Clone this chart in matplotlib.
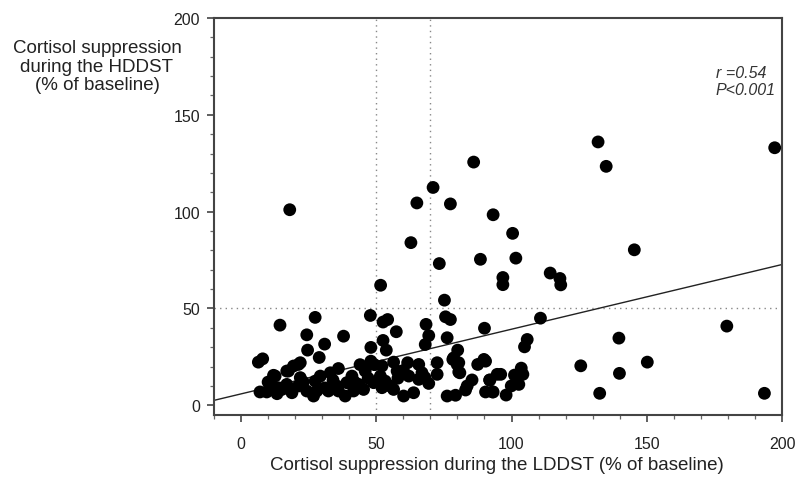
import matplotlib
matplotlib.use("Agg")
import matplotlib.pyplot as plt
import numpy as np
from matplotlib.ticker import MultipleLocator

plt.rcParams['font.family'] = ['Liberation Sans', 'DejaVu Sans']

# Data: LDDST (% of baseline) vs HDDST (% of baseline)
lddst = [18, 65, 71, 77.4, 86, 93.2, 100.4, 62.8, 73.3, 88.5, 101.6, 96.8, 96.8, 51.6, 75.2,
         132, 135, 197.3, 145.4, 114.3, 117.9, 118.2, 110.7, 179.6, 139.7, 105.8, 104.8, 125.6,
         150.2, 139.9, 132.6, 193.5,
         103.6, 104.2, 101.1, 96, 102.7, 99.9, 98, 93, 92,
         47.8, 27.4, 52.5, 54.2, 75.6, 77.4, 14.4, 57.4, 68.4, 69.4, 90, 24.3, 37.9, 76.2, 52.5,
         68.1, 30.9, 24.6, 48, 53.7, 28.9, 80.1,
         6.4, 8, 21.9, 19.4, 16.9, 12.6, 48, 49.3, 52.1, 56.4, 61.6, 65.7, 72.5, 78.3, 79.9, 80.9,
         87.5, 90.4, 72.5, 57.7, 62, 65.7, 66.9, 69.4, 85.4, 91.9, 94.7, 90.4, 93.2, 76.2, 79.3,
         83, 83.6, 60.1, 56.4, 63.8, 52.1, 49, 45.3, 45.9, 41, 39.1, 38.5, 35.4, 33, 29.3, 27.4,
         26.8, 28, 24.3, 21.2, 18.8, 16.9, 15.1, 11.4, 9.5, 7, 13.3, 32.3, 36, 41.6, 43.5, 53.3,
         51.5, 21.2, 17.5, 21.9, 12, 78.6, 80.5, 89.8, 80.5, 68,
         10, 14, 23, 31, 34, 42, 47, 55, 58, 60, 44, 36]
hddst = [101, 104.5, 112.5, 104, 125.6, 98.4, 88.8, 84, 73.2, 75.4, 76, 66, 62.3, 62, 54.3,
         136, 123.4, 133, 80.3, 68.3, 65.5, 62.2, 45, 40.9, 34.7, 34, 30.2, 20.4,
         22.3, 16.5, 6.2, 6.2,
         19.2, 16, 15.6, 16, 10.8, 10, 5.3, 6.9, 13,
         46.4, 45.4, 43, 44.3, 45.7, 44.3, 41.4, 38, 41.8, 36, 39.8, 36.4, 35.7, 34.9, 33.5,
         31.4, 31.6, 28.5, 29.9, 28.5, 24.7, 28.5,
         22.3, 24, 22, 20.3, 17.7, 15.1, 22.8, 21, 20.3, 22.3, 22, 21.1, 22, 23.7, 21.1, 16.8,
         21.1, 22.8, 16, 17.7, 15.1, 13.4, 16.8, 11.3, 13.1, 13.1, 16, 6.9, 6.9, 4.8, 5.2,
         7.9, 10, 4.8, 8.2, 6.5, 9.1, 11.7, 8.2, 17.7, 15.1, 11.7, 4.8, 10, 16.8, 15.1, 12.5,
         4.8, 7.4, 7.4, 10, 6.5, 10.8, 8.2, 10, 6.9, 6.9, 6, 7.4, 7.4, 7.4, 10.8, 12.5,
         15.1, 21.1, 17.7, 14.3, 15.5, 24.5, 22, 23.7, 17.2, 14.3,
         12, 9, 12, 9, 13, 12, 14, 10, 14, 18, 21, 19]

# Regression line
fit_intercept = 5.9
fit_slope = 0.334
ref_x = [50, 70]
ref_y = [50]

fig = plt.figure(figsize=(8.06, 4.81), dpi=100)
ax = fig.add_axes([214/806, 1 - 416/481, (782 - 214)/806, (416 - 19)/481])

ax.set_xlim(-10, 200)
ax.set_ylim(-5, 200)

for xv in ref_x:
    ax.axvline(xv, color='#888888', lw=1.0, ls=(0, (1, 3)), zorder=1)
for yv in ref_y:
    ax.axhline(yv, color='#888888', lw=1.0, ls=(0, (1, 3)), zorder=1)

lx = np.array([-10, 200])
ax.plot(lx, fit_intercept + fit_slope * lx, color='#222222', lw=1.0, zorder=2)

ax.scatter(lddst, hddst, s=85, color='black', edgecolors='none', zorder=3)

ax.xaxis.set_minor_locator(MultipleLocator(10))
ax.yaxis.set_minor_locator(MultipleLocator(10))
ax.set_xticks([0, 50, 100, 150, 200])
ax.set_yticks([0, 50, 100, 150, 200])

for s in ax.spines.values():
    s.set_color('#444444')
    s.set_linewidth(1.5)
ax.tick_params(axis='both', which='major', direction='out', length=5, width=1.2,
               color='#444444', labelsize=11.5, labelcolor='#222222', pad=5)
ax.tick_params(axis='both', which='minor', direction='out', length=3, width=0.9,
               color='#666666')
ax.tick_params(axis='x', pad=10)

ax.text(175.5, 167.5, "r =0.54\nP<0.001", fontsize=11.5, style='italic',
        color='#333333', ha='left', va='center', linespacing=1.1)

fig.text(97/806, 1 - 67/481, "Cortisol suppression\nduring the HDDST\n(% of baseline)",
         ha='center', va='center', fontsize=13.5, color='#222222', linespacing=1.15)
fig.text(497/806, 1 - 466/481, "Cortisol suppression during the LDDST (% of baseline)",
         ha='center', va='center', fontsize=13.5, color='#222222')

fig.savefig("out.png", dpi=100)
